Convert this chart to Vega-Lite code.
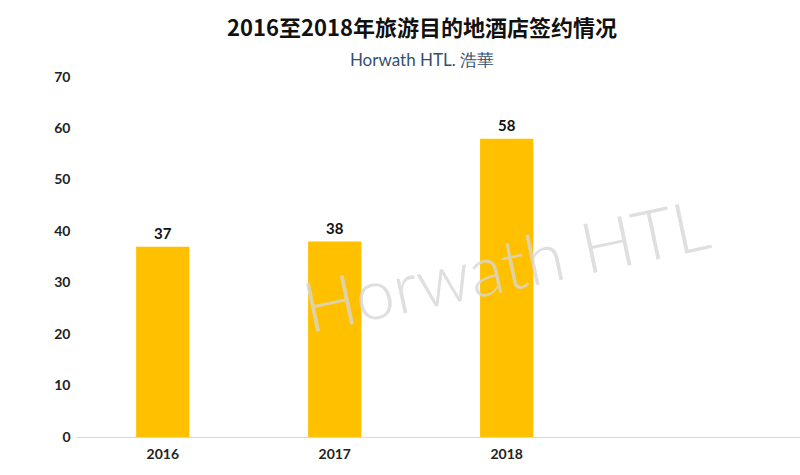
{
  "$schema": "https://vega.github.io/schema/vega-lite/v6.json",
  "width": 724,
  "height": 360,
  "autosize": {"type": "none"},
  "padding": {"left": 76, "top": 77, "right": 0, "bottom": 38},
  "background": "white",
  "title": {
    "text": "2016至2018年旅游目的地酒店签约情况",
    "subtitle": "Horwath HTL. 浩華",
    "font": "Noto Sans CJK SC",
    "fontSize": 22,
    "fontWeight": "bold",
    "color": "#111111",
    "subtitleFont": "Lato",
    "subtitleFontSize": 17,
    "subtitleColor": "#34506e",
    "subtitlePadding": 12,
    "anchor": "middle",
    "dx": -16,
    "offset": 0
  },
  "config": {
    "view": {"stroke": null},
    "axis": {"labelFont": "Lato", "labelFontWeight": "bold", "labelColor": "#222222", "labelFontSize": 14, "title": null, "grid": false, "ticks": false}
  },
  "data": {
    "values": [
      {"year": "2016", "count": 37},
      {"year": "2017", "count": 38},
      {"year": "2018", "count": 58}
    ]
  },
  "layer": [
    {
      "mark": {"type": "bar", "color": "#FFC000"},
      "encoding": {
        "x": {
          "field": "year", "type": "nominal",
          "scale": {"paddingInner": 0.69, "paddingOuter": 0.95, "align": 0.184},
          "axis": {"labelAngle": 0, "domainColor": "#d9d9d9", "labelPadding": 10}
        },
        "y": {
          "field": "count", "type": "quantitative",
          "scale": {"domain": [0, 70]},
          "axis": {"values": [0, 10, 20, 30, 40, 50, 60, 70], "domain": false, "labelPadding": 6}
        }
      }
    },
    {
      "mark": {"type": "text", "font": "Lato", "fontWeight": "bold", "fontSize": 15, "color": "#111111", "baseline": "bottom", "dy": -5},
      "encoding": {
        "x": {"field": "year", "type": "nominal"},
        "y": {"field": "count", "type": "quantitative"},
        "text": {"field": "count", "type": "quantitative"}
      }
    },
    {
      "mark": {"type": "text", "text": "Horwath HTL", "font": "Lato", "fontWeight": 300, "fontSize": 70, "color": "#d8d8d8", "opacity": 0.4, "angle": 348, "align": "center", "baseline": "middle"},
      "encoding": {
        "x": {"datum": "2018", "type": "nominal"},
        "y": {"datum": 32.5, "type": "quantitative"}
      }
    }
  ]
}
